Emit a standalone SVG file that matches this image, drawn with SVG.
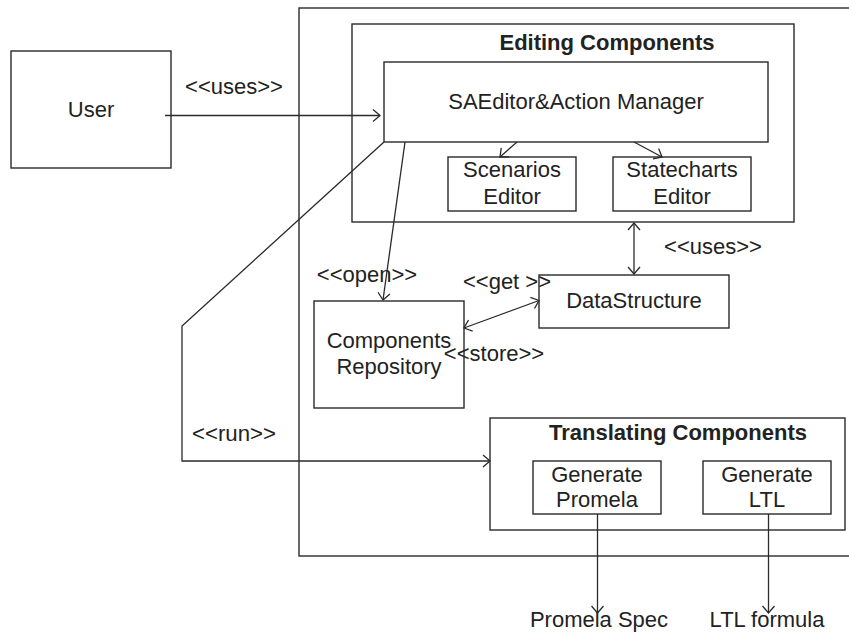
<svg xmlns="http://www.w3.org/2000/svg" width="849" height="632" viewBox="0 0 849 632">
  <style>
    .box { fill: #ffffff; stroke: #2a2a2a; stroke-width: 1.4; }
    .frame { fill: none; stroke: #2a2a2a; stroke-width: 1.4; }
    .line { fill: none; stroke: #2a2a2a; stroke-width: 1.3; }
    text { font-family: "Liberation Sans", Arial, sans-serif; font-size: 22px; fill: #222222; text-anchor: middle; }
    .title { font-weight: bold; }
  </style>
  <defs>
    <marker id="open" markerUnits="userSpaceOnUse" markerWidth="12" markerHeight="14" refX="9" refY="7" orient="auto-start-reverse">
      <path d="M2,1 L9,7 L2,13" fill="none" stroke="#2a2a2a" stroke-width="1.3"/>
    </marker>
  </defs>

  <rect width="849" height="632" fill="#ffffff"/>

  <!-- system boundary -->
  <g id="system">
    <rect class="frame" x="299" y="8" width="560" height="548"/>
  </g>

  <g id="user">
    <rect class="box" x="11" y="51" width="160" height="117"/>
    <text x="91" y="117">User</text>
  </g>

  <g id="editing-components">
    <rect class="box" x="352" y="24" width="442" height="198"/>
    <text class="title" x="607" y="50">Editing Components</text>
  </g>

  <g id="saeditor">
    <rect class="box" x="384" y="62" width="384" height="80"/>
    <text x="576" y="109">SAEditor&amp;Action Manager</text>
  </g>

  <g id="scenarios-editor">
    <rect class="box" x="448" y="157" width="128" height="54"/>
    <text x="512" y="177">Scenarios</text>
    <text x="512" y="204">Editor</text>
  </g>

  <g id="statecharts-editor">
    <rect class="box" x="613" y="157" width="138" height="54"/>
    <text x="682" y="177">Statecharts</text>
    <text x="682" y="204">Editor</text>
  </g>

  <g id="datastructure">
    <rect class="box" x="539" y="275" width="190" height="53"/>
    <text x="634" y="308">DataStructure</text>
  </g>

  <g id="components-repository">
    <rect class="box" x="314" y="301" width="150" height="107"/>
    <text x="389" y="348">Components</text>
    <text x="389" y="374">Repository</text>
  </g>

  <g id="translating-components">
    <rect class="box" x="490" y="418" width="355" height="112"/>
    <text class="title" x="678" y="440">Translating Components</text>
  </g>

  <g id="generate-promela">
    <rect class="box" x="533" y="461" width="128" height="53"/>
    <text x="597" y="482">Generate</text>
    <text x="597" y="507">Promela</text>
  </g>

  <g id="generate-ltl">
    <rect class="box" x="703" y="461" width="128" height="53"/>
    <text x="767" y="482">Generate</text>
    <text x="767" y="507">LTL</text>
  </g>

  <g id="promela-spec">
    <text x="599" y="627">Promela Spec</text>
  </g>

  <g id="ltl-formula">
    <text x="767" y="627">LTL formula</text>
  </g>

  <!-- connectors -->
  <g id="connectors">
    <line class="line" x1="165" y1="115.5" x2="380" y2="115.5" marker-end="url(#open)"/>
    <line class="line" x1="517" y1="142" x2="500" y2="157" marker-end="url(#open)"/>
    <line class="line" x1="634" y1="142" x2="662" y2="157" marker-end="url(#open)"/>
    <line class="line" x1="634" y1="223" x2="634" y2="274" marker-start="url(#open)" marker-end="url(#open)"/>
    <line class="line" x1="405" y1="142" x2="383" y2="300" marker-end="url(#open)"/>
    <line class="line" x1="464" y1="328" x2="539" y2="300.5" marker-start="url(#open)" marker-end="url(#open)"/>
    <polyline class="line" points="384,142 182,326 182,461 490,461" marker-end="url(#open)"/>
    <line class="line" x1="597.5" y1="514" x2="597.5" y2="613" marker-end="url(#open)"/>
    <line class="line" x1="768.5" y1="514" x2="768.5" y2="613" marker-end="url(#open)"/>
  </g>

  <!-- connector labels -->
  <g id="labels">
    <text x="234" y="94">&lt;&lt;uses&gt;&gt;</text>
    <text x="713" y="254">&lt;&lt;uses&gt;&gt;</text>
    <text x="367" y="282">&lt;&lt;open&gt;&gt;</text>
    <text x="507" y="289">&lt;&lt;get &gt;&gt;</text>
    <text x="494" y="361">&lt;&lt;store&gt;&gt;</text>
    <text x="234" y="441" textLength="84" lengthAdjust="spacingAndGlyphs">&lt;&lt;run&gt;&gt;</text>
  </g>
</svg>
